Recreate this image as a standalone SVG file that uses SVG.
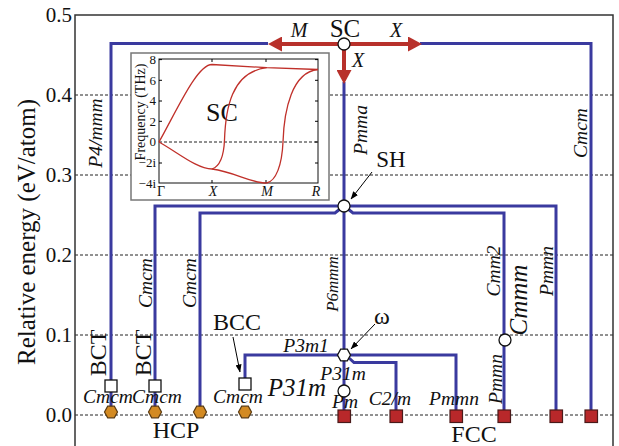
<svg xmlns="http://www.w3.org/2000/svg" width="619" height="446" viewBox="0 0 619 446">
<style>
.frame{fill:none;stroke:#333;stroke-width:1.5}
.grid{fill:none;stroke:#222;stroke-width:1;stroke-dasharray:3 2}
.blue{fill:none;stroke:#3a3a9f;stroke-width:3;stroke-linejoin:miter}
.red{fill:none;stroke:#b8312b;stroke-width:4}
.band{fill:none;stroke:#c0302a;stroke-width:1.3}
.thin{fill:none;stroke:#000;stroke-width:1}
.t{fill:#111}
.i{font-style:italic;fill:#111}
.wnode{fill:#fff;stroke:#111;stroke-width:1.3}
.fcc{fill:#b8282a;stroke:#4a1a1a;stroke-width:1.2}
.hcp{fill:#d38a22;stroke:#5a3a10;stroke-width:1.2}
</style>
<defs>
<marker id="redhead" viewBox="0 0 14 15" refX="1" refY="7.5" markerWidth="14" markerHeight="15" markerUnits="userSpaceOnUse" orient="auto">
<path d="M0,0 L14,7.5 L0,15 z" fill="#b8312b"/>
</marker>
<marker id="blackhead" viewBox="0 0 8 6" refX="7.5" refY="3" markerWidth="8" markerHeight="6" markerUnits="userSpaceOnUse" orient="auto">
<path d="M0,0 L8,3 L0,6 z" fill="#000"/>
</marker>
<polygon id="hex" points="-6.5,0 -3.3,-5.8 3.3,-5.8 6.5,0 3.3,5.8 -3.3,5.8"/>
</defs>
<rect width="619" height="446" fill="#fff"/>
<g font-family="'Liberation Serif', 'Times New Roman', 'DejaVu Serif', serif">

<g id="axes">
<path class="grid" d="M75,95 H613 M75,175 H613 M75,255 H613 M75,335 H613 M75,415 H613"/>
<path class="frame" d="M75,446 V15 H613 V446"/>
<g class="t" font-size="21" text-anchor="end">
<text x="72" y="22">0.5</text>
<text x="72" y="102">0.4</text>
<text x="72" y="182">0.3</text>
<text x="72" y="262">0.2</text>
<text x="72" y="342">0.1</text>
<text x="72" y="422">0.0</text>
</g>
<text class="t" font-size="25" text-anchor="middle" transform="translate(35,232) rotate(-90)">Relative energy (eV/atom)</text>
</g>

<g id="inset">
<rect x="131" y="53" width="198" height="147" fill="#fff" stroke="#777" stroke-width="1.5"/>
<rect x="159" y="59" width="159" height="124" fill="#fff" stroke="#111" stroke-width="1"/>
<path class="grid" d="M159,142 H318"/>
<path class="thin" d="M159,59.6 h3 M159,80.3 h3 M159,101 h3 M159,121.3 h3 M159,163 h3 M318,59.6 h-3 M318,80.3 h-3 M318,101 h-3 M318,121.3 h-3 M318,142 h-3 M318,163 h-3 M212,59 v3 M266,59 v3 M212,183 v-3 M266,183 v-3"/>
<g class="t" font-size="13" text-anchor="end">
<text x="156" y="64">8</text>
<text x="156" y="85">6</text>
<text x="156" y="105">4</text>
<text x="156" y="126">2</text>
<text x="156" y="146">0</text>
<text x="156" y="167">−2i</text>
<text x="156" y="188">−4i</text>
</g>
<text class="t" font-size="14" x="161" y="196" text-anchor="middle">Γ</text>
<g class="i" font-size="14" text-anchor="middle">
<text x="213" y="196">X</text>
<text x="267" y="196">M</text>
<text x="316" y="196">R</text>
</g>
<text class="t" font-size="14" text-anchor="middle" transform="translate(145,112) rotate(-90)">Frequency (THz)</text>
<text class="t" font-size="26" x="222" y="121" text-anchor="middle">SC</text>
<path class="band" d="M159,142 C177,110 197,64.5 212,64.5 L266.7,67.7 L318,69.5"/>
<path class="band" d="M159,142 C177,152 197,169 212,169 C235,172 250,183 266.7,183"/>
<path class="band" d="M212,169 C221,166 224,152 224.5,140 C225.5,110 231,72 266.7,67.7"/>
<path class="band" d="M266.7,183 C276,181 282,165 283,142 C284,110 292,72 318,69.5"/>
</g>

<g id="connectors">
<path class="blue" d="M268,43.5 H111 V412"/>
<path class="blue" d="M420,43.5 H591 V416"/>
<path class="blue" d="M344,82 V416"/>
<path class="blue" d="M338,206 H155 V412"/>
<path class="blue" d="M340,209 L335,213 H200 V412"/>
<path class="blue" d="M350,206 H556 V416"/>
<path class="blue" d="M348,209 L353,213 H504 V416"/>
<path class="blue" d="M338,355 H245 V384"/>
<path class="blue" d="M350,355 H456 V416"/>
<path class="blue" d="M349,358 L354,362.5 H396 V416"/>
<path class="red" d="M344,44 H281" marker-end="url(#redhead)"/>
<path class="red" d="M344,44 H409" marker-end="url(#redhead)"/>
<path class="red" d="M344,44 V71" marker-end="url(#redhead)"/>
<path class="thin" d="M372,172 L351,199" marker-end="url(#blackhead)"/>
<path class="thin" d="M375,324 L351,349" marker-end="url(#blackhead)"/>
<path class="thin" d="M233,337 L240,372" marker-end="url(#blackhead)"/>
</g>

<g id="labels">
<g class="i" font-size="20" text-anchor="middle">
<text x="299" y="37">M</text>
<text x="396" y="37">X</text>
<text x="358" y="67">X</text>
</g>
<g class="i" font-size="19.5" text-anchor="middle">
<text transform="translate(102,133) rotate(-90)">P4/mmm</text>
<text transform="translate(367,130) rotate(-90)">Pmma</text>
<text transform="translate(587,133) rotate(-90)">Cmcm</text>
<text transform="translate(152,283) rotate(-90)">Cmcm</text>
<text transform="translate(196,283) rotate(-90)">Cmcm</text>
<text transform="translate(500,271) rotate(-90)">Cmm2</text>
<text transform="translate(553,271) rotate(-90)">Pmmn</text>
<text transform="translate(502,379) rotate(-90)">Pmmn</text>
</g>
<text class="i" font-size="17" text-anchor="middle" transform="translate(338,284) rotate(-90)">P6mmm</text>
<text class="i" font-size="25" text-anchor="middle" transform="translate(527,300) rotate(-90)">Cmmm</text>
<g class="i" font-size="19.5" text-anchor="middle">
<text x="306" y="352">P3m1</text>
<text x="343" y="380">P31m</text>
<text x="345" y="408">Pm</text>
<text x="390" y="405">C2/m</text>
<text x="454" y="405">Pmmn</text>
<text x="108" y="403">Cmcm</text>
<text x="157" y="403">Cmcm</text>
<text x="238" y="403">Cmcm</text>
</g>
<text class="i" font-size="25" x="297" y="396" text-anchor="middle">P31m</text>
</g>

<g id="node-SC"><circle class="wnode" cx="344" cy="44" r="6"/><text class="t" font-size="25" x="345" y="37" text-anchor="middle">SC</text></g>
<g id="node-SH"><circle class="wnode" cx="344" cy="206" r="6"/><text class="t" font-size="23" x="391" y="167" text-anchor="middle">SH</text></g>
<g id="node-omega"><use href="#hex" x="344" y="355" class="wnode"/><text class="t" font-size="24" x="382" y="324" text-anchor="middle">ω</text></g>
<g id="node-P31m"><circle class="wnode" cx="344" cy="391" r="6"/></g>
<g id="node-Cmmm"><circle class="wnode" cx="505" cy="340" r="6"/></g>
<g id="node-BCT1"><rect class="wnode" x="105" y="380" width="12" height="12"/><text class="t" font-size="24" text-anchor="middle" transform="translate(106,353) rotate(-90)">BCT</text></g>
<g id="node-BCT2"><rect class="wnode" x="149" y="380" width="12" height="12"/><text class="t" font-size="24" text-anchor="middle" transform="translate(151,353) rotate(-90)">BCT</text></g>
<g id="node-BCC"><rect class="wnode" x="239" y="378" width="12" height="12"/><text class="t" font-size="24" x="237" y="330" text-anchor="middle">BCC</text></g>
<g id="node-HCP">
<use href="#hex" x="111" y="412" class="hcp"/>
<use href="#hex" x="155" y="412" class="hcp"/>
<use href="#hex" x="200" y="412" class="hcp"/>
<use href="#hex" x="245" y="412" class="hcp"/>
<text class="t" font-size="24" x="176" y="438" text-anchor="middle">HCP</text>
</g>
<g id="node-FCC">
<rect class="fcc" x="338" y="410" width="12.5" height="12.5"/>
<rect class="fcc" x="390" y="410" width="12.5" height="12.5"/>
<rect class="fcc" x="450" y="410" width="12.5" height="12.5"/>
<rect class="fcc" x="498" y="410" width="12.5" height="12.5"/>
<rect class="fcc" x="550" y="410" width="12.5" height="12.5"/>
<rect class="fcc" x="585" y="410" width="12.5" height="12.5"/>
<text class="t" font-size="24" x="474" y="442" text-anchor="middle">FCC</text>
</g>
</g>
</svg>
